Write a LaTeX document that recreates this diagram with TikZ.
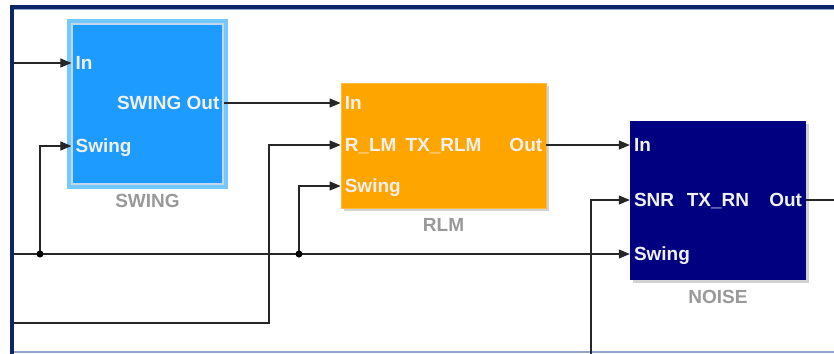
\documentclass[tikz,border=0pt]{standalone}
\usepackage{fontspec}
\setmainfont{Liberation Sans}
\usetikzlibrary{positioning,arrows.meta,shadows}
\definecolor{frameblue}{HTML}{0B2566}
\definecolor{framelite}{HTML}{90A8D0}
\definecolor{swingblue}{HTML}{1E9BFF}
\definecolor{swingglow}{HTML}{74C8FF}
\definecolor{swingedge}{HTML}{C4D8EC}
\definecolor{rlmorange}{HTML}{FFA500}
\definecolor{noisenavy}{HTML}{000080}
\definecolor{porttext}{HTML}{F0F0F0}
\definecolor{namegray}{HTML}{999999}

\begin{document}
\begin{tikzpicture}[x=1pt, y=-1pt,
  every node/.style={font=\fontsize{19}{22}\selectfont\bfseries, inner sep=0pt, text height=13.6pt, text depth=0pt},
  block/.style={rectangle, drop shadow={shadow xshift=3pt, shadow yshift=-3pt, fill=black!35}},
  portin/.style={anchor=west, text=porttext, xshift=4pt},
  portout/.style={anchor=east, text=porttext, xshift=-4pt},
  blkname/.style={text=namegray},
  wire/.style={line width=1.1pt, black!85},
  arr/.style={wire, -{Triangle[length=11pt,width=9pt]}}]
  \useasboundingbox (0,0) rectangle (834,353);
  % frame
  \draw[frameblue, line width=3.5pt] (12,360) -- (12,7) -- (840,7);
  \draw[framelite, line width=1pt] (14,10) -- (840,10);
  \draw[framelite, line width=1.2pt] (14,352) -- (840,352);
  % blocks
  \node[fill=swingblue, draw=swingedge, line width=1.2pt, minimum width=151pt, minimum height=160pt,
        preaction={draw=swingglow, line width=10pt}] (swing) at (147.5,104) {};
  \node[block, fill=rlmorange, draw=rlmorange!75!white, line width=0.8pt, minimum width=205pt, minimum height=125pt] (rlm) at (443.5,145.5) {};
  \node[block, fill=noisenavy, minimum width=176pt, minimum height=159pt] (noise) at (718,200.5) {};
  % ports
  \coordinate (swingIn) at (swing.west |- 0,63);
  \coordinate (swingSw) at (swing.west |- 0,146);
  \coordinate (swingOut) at (swing.east |- 0,103);
  \coordinate (rlmIn) at (rlm.west |- 0,103);
  \coordinate (rlmR) at (rlm.west |- 0,145);
  \coordinate (rlmSw) at (rlm.west |- 0,186);
  \coordinate (rlmOut) at (rlm.east |- 0,145);
  \coordinate (noiseIn) at (noise.west |- 0,145);
  \coordinate (noiseSNR) at (noise.west |- 0,200);
  \coordinate (noiseSw) at (noise.west |- 0,254);
  \coordinate (noiseOut) at (noise.east |- 0,200);
  % port labels
  \node[portin] (swingInL) at (swingIn) {In};
  \node[portin] (swingSwL) at (swingSw) {Swing};
  \node[portout] (swingOutL) at (swingOut) {SWING Out};
  \node[portin] (rlmInL) at (rlmIn) {In};
  \node[portin] (rlmRL) at (rlmR) {R\_LM};
  \node[portin] (rlmSwL) at (rlmSw) {Swing};
  \node[portout] (rlmOutL) at (rlmOut) {Out};
  \node[text=porttext] (rlmMask) at (rlm.center |- rlmR) {TX\_RLM};
  \node[portin] (noiseInL) at (noiseIn) {In};
  \node[portin] (noiseSNRL) at (noiseSNR) {SNR};
  \node[portin] (noiseSwL) at (noiseSw) {Swing};
  \node[portout] (noiseOutL) at (noiseOut) {Out};
  \node[text=porttext] (noiseMask) at (noise.center |- noiseSNR) {TX\_RN};
  % block names
  \node[blkname, below=9pt of swing] (swingName) {SWING};
  \node[blkname, below=9pt of rlm] (rlmName) {RLM};
  \node[blkname, below=9pt of noise] (noiseName) {NOISE};
  % free ends and junctions
  \coordinate (srcIn) at (14,63);
  \coordinate (srcSw) at (14,254);
  \coordinate (srcR) at (14,323);
  \coordinate (bendR) at (269,323);
  \coordinate (srcSNR) at (591,356);
  \coordinate (sinkOut) at (840,200);
  \coordinate (jA) at (40,254);
  \coordinate (jB) at (299,254);
  % wires
  \draw[arr] (srcIn) -- (swingIn);
  \draw[arr] (srcSw) -- (noiseSw);
  \draw[arr] (jA) |- (swingSw);
  \draw[arr] (jB) |- (rlmSw);
  \draw[arr] (swingOut) -- (rlmIn);
  \draw[arr] (srcR) -- (bendR) |- (rlmR);
  \draw[arr] (rlmOut) -- (noiseIn);
  \draw[arr] (srcSNR) |- (noiseSNR);
  \draw[wire] (noiseOut) -- (sinkOut);
  \fill (jA) circle (3.5pt);
  \fill (jB) circle (3.5pt);
\end{tikzpicture}
\end{document}
